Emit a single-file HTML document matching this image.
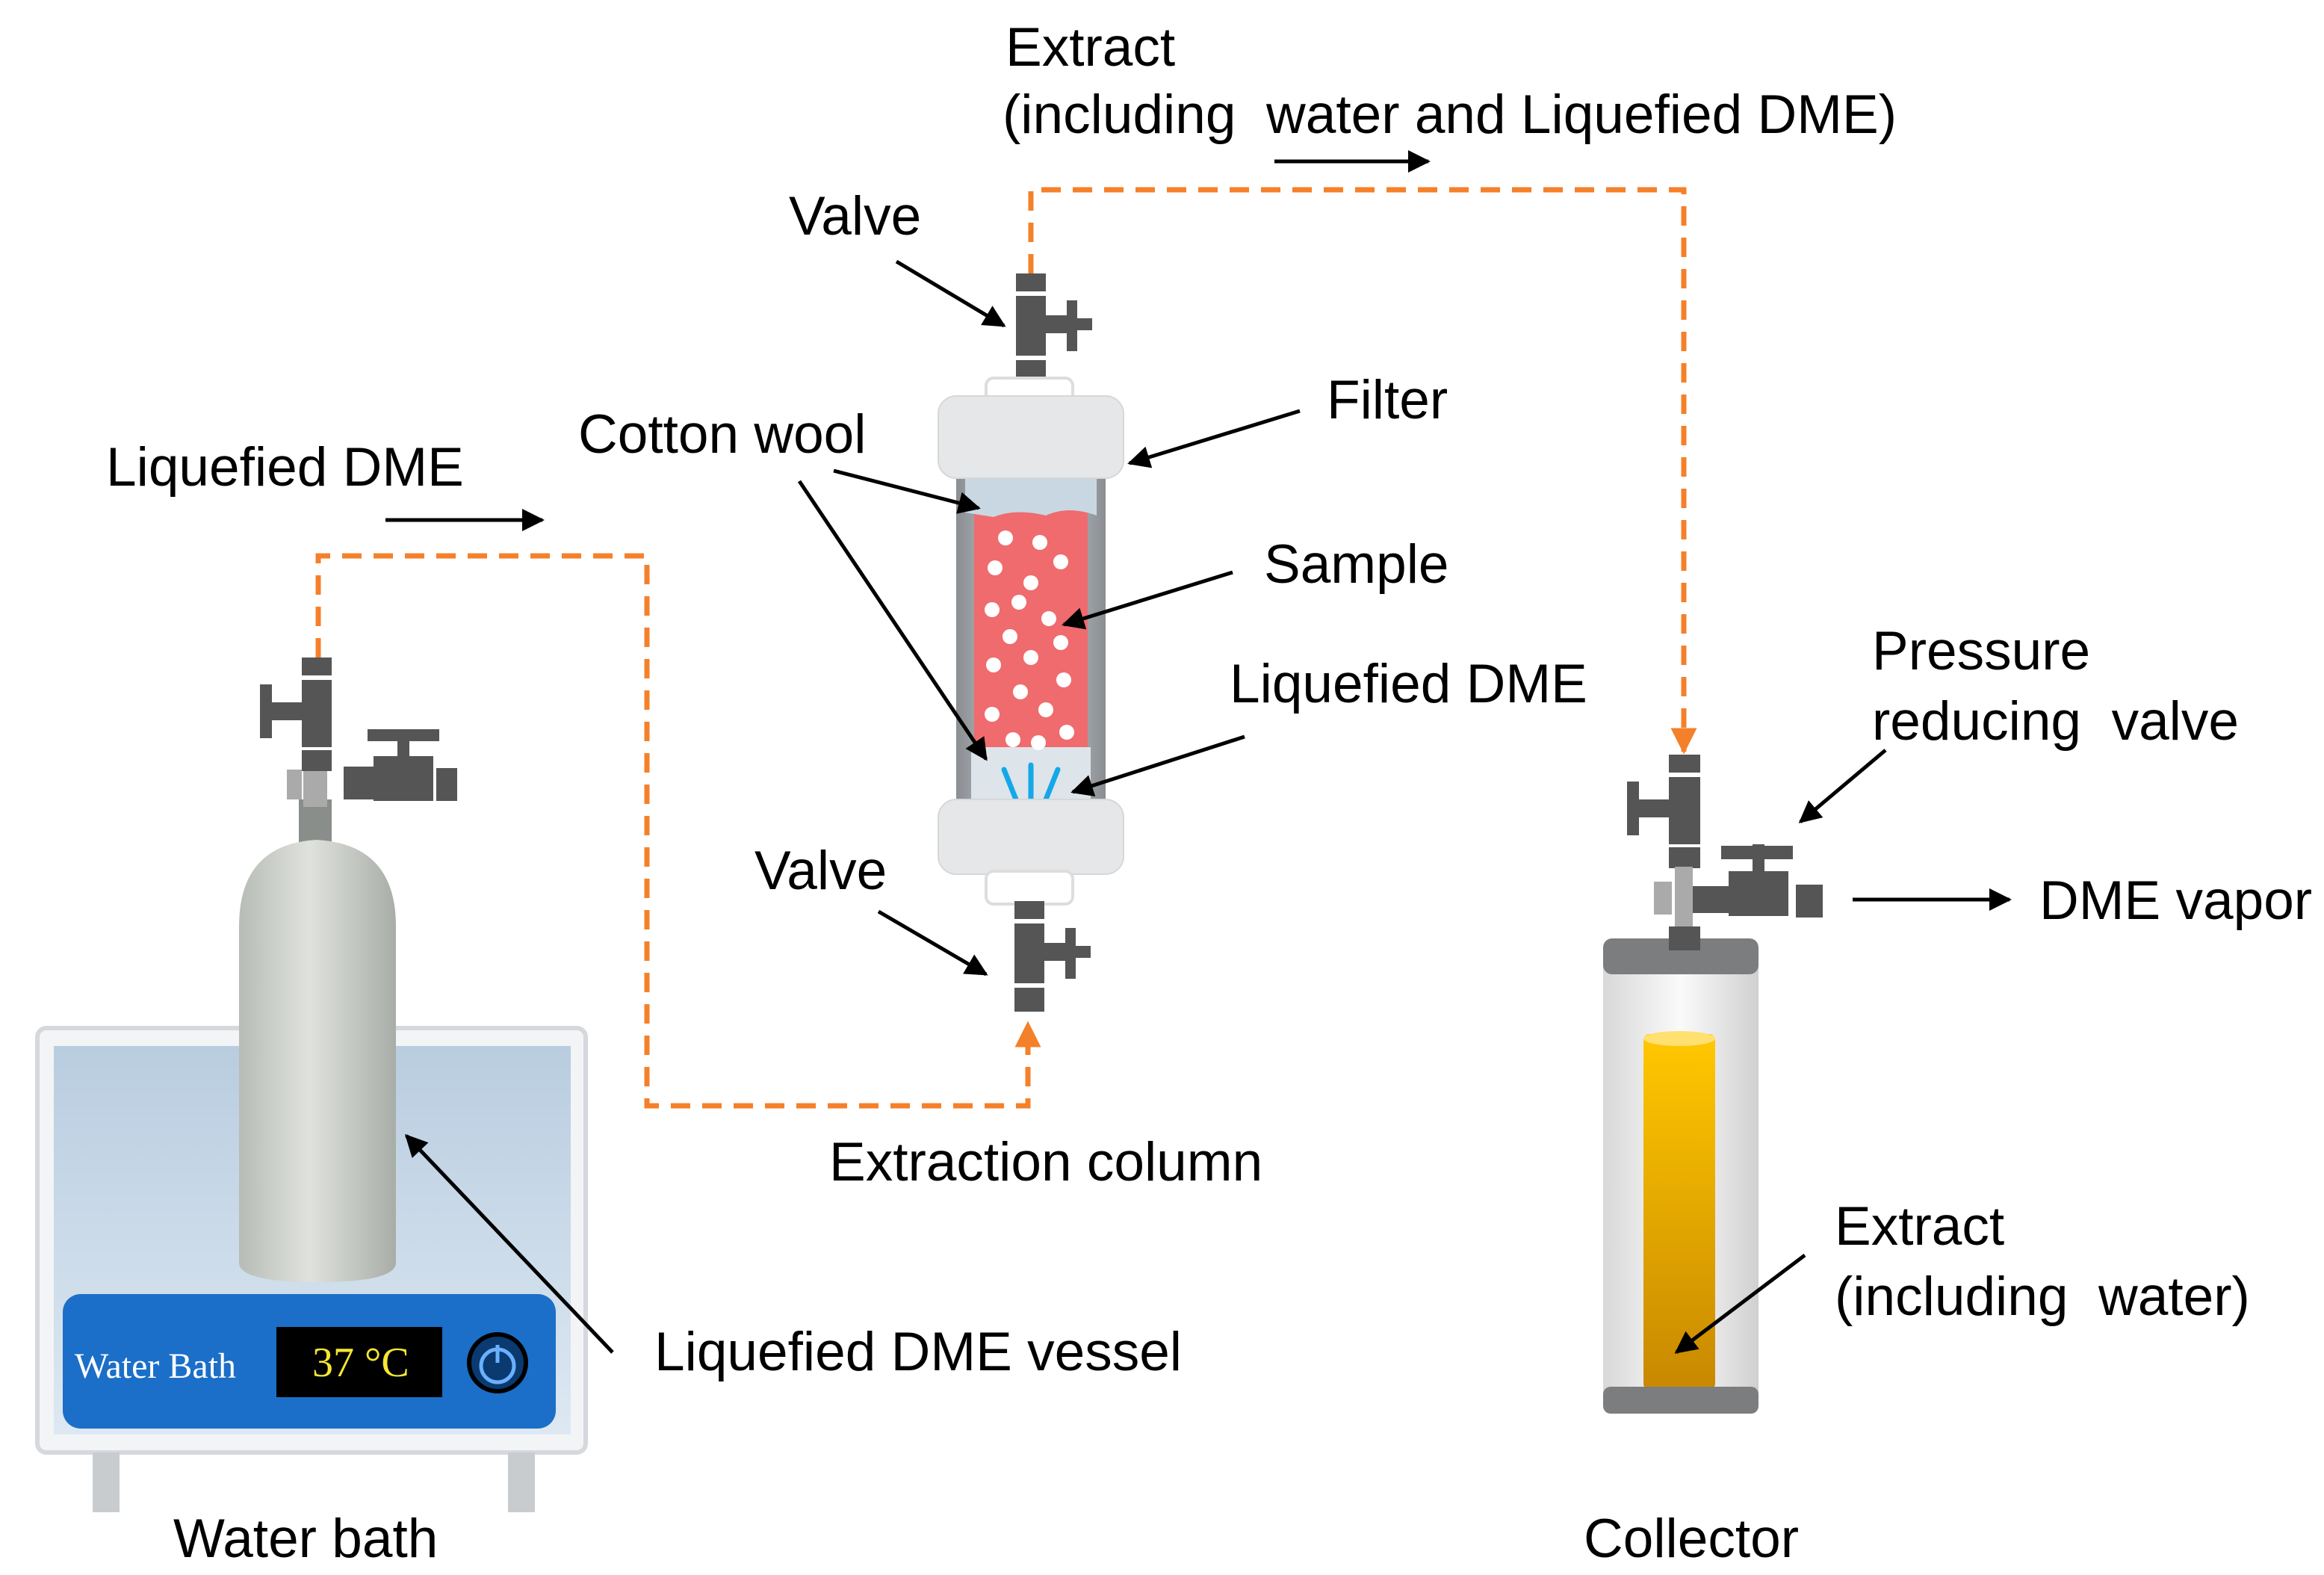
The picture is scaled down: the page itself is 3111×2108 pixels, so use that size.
<!DOCTYPE html>
<html><head><meta charset="utf-8"><style>html,body{margin:0;padding:0;background:#fff}svg{display:block}</style></head><body>
<svg width="3111" height="2108" viewBox="0 0 1555.5 1054" xmlns="http://www.w3.org/2000/svg" font-family="Liberation Sans, sans-serif">
<defs>
<marker id="ah" viewBox="0 0 10 10" refX="9" refY="5" markerWidth="7" markerHeight="6" orient="auto" markerUnits="strokeWidth"><path d="M0,0 L10,5 L0,10 z" fill="#000"/></marker>
<marker id="oh" viewBox="0 0 10 10" refX="9" refY="5" markerWidth="5" markerHeight="5" orient="auto" markerUnits="strokeWidth"><path d="M0,0 L10,5 L0,10 z" fill="#f5802a"/></marker>
<linearGradient id="bath" x1="0" y1="0" x2="0" y2="1"><stop offset="0" stop-color="#b9cde0"/><stop offset="1" stop-color="#dde8f2"/></linearGradient>
<linearGradient id="cyl" x1="0" y1="0" x2="1" y2="0"><stop offset="0" stop-color="#b8bcb6"/><stop offset="0.45" stop-color="#dfe2dd"/><stop offset="1" stop-color="#a9ada7"/></linearGradient>
<linearGradient id="tube" x1="0" y1="0" x2="1" y2="0"><stop offset="0" stop-color="#8a8e92"/><stop offset="0.5" stop-color="#d8dadc"/><stop offset="1" stop-color="#8a8e92"/></linearGradient>
<linearGradient id="yel" x1="0" y1="0" x2="0" y2="1"><stop offset="0" stop-color="#ffc800"/><stop offset="1" stop-color="#c88800"/></linearGradient>
<linearGradient id="glass" x1="0" y1="0" x2="1" y2="0"><stop offset="0" stop-color="#d8d8d8"/><stop offset="0.5" stop-color="#fafafa"/><stop offset="1" stop-color="#d0d0d0"/></linearGradient>
<g id="valve">
<rect x="0" y="0" width="20" height="12" fill="#555"/>
<rect x="0" y="15" width="20" height="40" fill="#555"/>
<rect x="0" y="58" width="20" height="16" fill="#555"/>
<rect x="20" y="28" width="14" height="12" fill="#555"/>
<rect x="34" y="18" width="7" height="34" fill="#555"/>
<rect x="41" y="30" width="10" height="8" fill="#555"/>
</g>
</defs>

<g fill="none" stroke="#f5802a" stroke-width="3.5" stroke-dasharray="13,8">
<path d="M213,440 V372 H433 V740 H688 V685" marker-end="url(#oh)"/>
<path d="M690,183 V127 H1127 V503" marker-end="url(#oh)"/>
</g>

<rect x="25" y="688" width="367" height="284" rx="6" fill="#f2f4f6" stroke="#d5d8dc" stroke-width="3"/>
<rect x="36" y="700" width="346" height="260" fill="url(#bath)"/>
<rect x="62" y="972" width="18" height="40" fill="#c9cccf"/>
<rect x="340" y="972" width="18" height="40" fill="#c9cccf"/>
<rect x="42" y="866" width="330" height="90" rx="12" fill="#1b6fc8"/>
<text x="50" y="922" font-family="Liberation Serif, serif" font-size="24" fill="#fff">Water Bath</text>
<rect x="185" y="888" width="111" height="47" fill="#000"/>
<text x="209" y="921" font-family="Liberation Serif, serif" font-size="28" fill="#f5e633">37 °C</text>
<circle cx="333" cy="912" r="19" fill="#0a3a70" stroke="#000" stroke-width="3"/>
<circle cx="333" cy="914" r="11" fill="none" stroke="#6ab0ff" stroke-width="2.5"/>
<line x1="333" y1="900" x2="333" y2="912" stroke="#6ab0ff" stroke-width="2.5"/>

<rect x="200" y="535" width="22" height="32" fill="#8a8e8a"/>
<path d="M160,620 Q160,565 212,562 Q265,565 265,620 V845 Q265,858 212,858 Q160,858 160,845 Z" fill="url(#cyl)"/>
<rect x="203" y="515" width="16" height="25" fill="#aaa"/>
<g transform="translate(202,440)"><rect x="0" y="0" width="20" height="12" fill="#555"/><rect x="0" y="15" width="20" height="45" fill="#555"/><rect x="-20" y="30" width="20" height="12" fill="#555"/><rect x="-28" y="18" width="8" height="36" fill="#555"/><rect x="0" y="62" width="20" height="14" fill="#555"/></g>
<rect x="230" y="513" width="20" height="22" fill="#555"/><rect x="250" y="506" width="40" height="30" fill="#555"/><rect x="292" y="514" width="14" height="22" fill="#555"/><rect x="266" y="490" width="8" height="18" fill="#555"/><rect x="246" y="488" width="48" height="8" fill="#555"/>
<rect x="192" y="515" width="10" height="20" fill="#aaa"/>

<g transform="translate(680,183)"><use href="#valve"/></g>
<rect x="660" y="253" width="58" height="28" rx="5" fill="#fff" stroke="#ddd" stroke-width="2"/>
<rect x="640" y="318" width="100" height="230" fill="url(#tube)"/>
<rect x="652" y="335" width="76" height="168" fill="#ef6b6e"/>
<path d="M646,320 H734 V345 Q715,338 700,345 Q680,340 665,346 L646,343 Z" fill="#c9d7e2"/>
<path d="M650,500 H730 V545 H650 Z" fill="#dde4ea"/>
<g stroke="#13a8e8" stroke-width="3.5" stroke-linecap="round"><line x1="672" y1="515" x2="680" y2="535"/><line x1="690" y1="512" x2="690" y2="535"/><line x1="708" y1="515" x2="700" y2="535"/></g>
<g fill="#fff">
<circle cx="673" cy="360" r="5"/><circle cx="696" cy="363" r="5"/><circle cx="666" cy="380" r="5"/><circle cx="690" cy="390" r="5"/><circle cx="710" cy="376" r="5"/><circle cx="682" cy="403" r="5"/><circle cx="702" cy="414" r="5"/><circle cx="664" cy="408" r="5"/><circle cx="676" cy="426" r="5"/><circle cx="710" cy="430" r="5"/><circle cx="665" cy="445" r="5"/><circle cx="690" cy="440" r="5"/><circle cx="712" cy="455" r="5"/><circle cx="683" cy="463" r="5"/><circle cx="700" cy="475" r="5"/><circle cx="664" cy="478" r="5"/><circle cx="678" cy="495" r="5"/><circle cx="695" cy="497" r="5"/><circle cx="714" cy="490" r="5"/>
</g>
<rect x="628" y="265" width="124" height="55" rx="12" fill="#e6e7e8" stroke="#d6d7d8"/>
<rect x="628" y="535" width="124" height="50" rx="12" fill="#e6e7e8" stroke="#d6d7d8"/>
<rect x="660" y="583" width="58" height="22" rx="5" fill="#fff" stroke="#ddd" stroke-width="2"/>
<g transform="translate(679,603)"><use href="#valve"/></g>

<rect x="1073" y="640" width="104" height="295" fill="url(#glass)"/>
<rect x="1100" y="692" width="48" height="238" rx="4" fill="url(#yel)"/>
<ellipse cx="1124" cy="695" rx="24" ry="5" fill="#ffe070"/>
<rect x="1073" y="628" width="104" height="24" rx="6" fill="#7b7d7f"/>
<rect x="1073" y="928" width="104" height="18" rx="5" fill="#7b7d7f"/>
<g transform="translate(1117,505)"><rect x="0" y="0" width="21" height="12" fill="#555"/><rect x="0" y="15" width="21" height="45" fill="#555"/><rect x="-20" y="30" width="20" height="12" fill="#555"/><rect x="-28" y="18" width="8" height="36" fill="#555"/><rect x="0" y="62" width="21" height="14" fill="#555"/></g>
<rect x="1121" y="580" width="12" height="55" fill="#aaa"/>
<rect x="1107" y="590" width="12" height="22" fill="#aaa"/>
<rect x="1117" y="620" width="21" height="16" fill="#555"/>
<rect x="1133" y="593" width="24" height="18" fill="#555"/><rect x="1157" y="583" width="40" height="30" fill="#555"/><rect x="1202" y="592" width="18" height="22" fill="#555"/><rect x="1173" y="565" width="8" height="20" fill="#555"/><rect x="1152" y="566" width="48" height="9" fill="#555"/>

<g stroke="#000" stroke-width="2.5" fill="none" marker-end="url(#ah)">
<line x1="258" y1="348" x2="363" y2="348"/>
<line x1="853" y1="108" x2="956" y2="108"/>
<line x1="600" y1="175" x2="672" y2="218"/>
<line x1="870" y1="275" x2="756" y2="310"/>
<line x1="558" y1="315" x2="655" y2="340"/>
<line x1="535" y1="322" x2="660" y2="508"/>
<line x1="825" y1="383" x2="712" y2="418"/>
<line x1="833" y1="493" x2="718" y2="530"/>
<line x1="588" y1="610" x2="660" y2="652"/>
<line x1="1240" y1="602" x2="1345" y2="602"/>
<line x1="1262" y1="502" x2="1205" y2="550"/>
<line x1="1208" y1="840" x2="1122" y2="905"/>
<line x1="410" y1="905" x2="272" y2="760"/>
</g>

<g font-size="36.5" fill="#000">
<text x="673" y="44">Extract</text>
<text x="671" y="89" xml:space="preserve">(including  water and Liquefied DME)</text>
<text x="528" y="157">Valve</text>
<text x="888" y="280">Filter</text>
<text x="387" y="303">Cotton wool</text>
<text x="71" y="325">Liquefied DME</text>
<text x="846" y="390">Sample</text>
<text x="823" y="470">Liquefied DME</text>
<text x="1253" y="448">Pressure</text>
<text x="1253" y="495" xml:space="preserve">reducing  valve</text>
<text x="505" y="595">Valve</text>
<text x="1365" y="615">DME vapor</text>
<text x="555" y="790">Extraction column</text>
<text x="1228" y="833">Extract</text>
<text x="1228" y="880" xml:space="preserve">(including  water)</text>
<text x="438" y="917">Liquefied DME vessel</text>
<text x="116" y="1042">Water bath</text>
<text x="1060" y="1042">Collector</text>
</g>
</svg>
</body></html>
